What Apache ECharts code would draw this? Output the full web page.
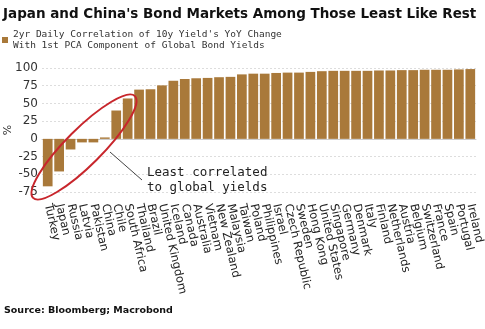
<!DOCTYPE html>
<html><head><meta charset="utf-8">
<script src="https://cdn.jsdelivr.net/npm/echarts@6/dist/echarts.min.js"></script>
<style>html,body{margin:0;padding:0;background:#fff}#c{width:485px;height:329px}</style>
</head><body><div id="c"></div>
<script>
const countries = ['Turkey','Japan','Russia','Latvia','Pakistan','China','Chile','South Africa','Thailand','Brazil','United Kingdom','Iceland','Canada','Australia','Vietnam','New Zealand','Malaysia','Taiwan','Poland','Philippines','Israel','Czech Republic','Sweden','Hong Kong','United States','Singapore','Germany','Denmark','Italy','Finland','Netherlands','Austria','Belgium','Switzerland','France','Spain','Portugal','Ireland'];
const correlation = [-67,-46,-15,-5,-5,2,40,57,69.5,70,75.5,82,84.5,85.5,86,87,87.5,91,92,92,93,93.5,93.5,94.5,95.5,96,96,96,96,96.5,96.5,97,97,97.5,97.5,97.5,98,98.5];
const yMin = -75, yMax = 100, yStep = 25;
const seriesName = "2yr Daily Correlation of 10y Yield's YoY Change\nWith 1st PCA Component of Global Bond Yields";

const chart = echarts.init(document.getElementById('c'));
chart.setOption({
  animation: false,
  backgroundColor: '#fff',
  title: {
    text: "Japan and China's Bond Markets Among Those Least Like Rest",
    left: 3, top: 7, padding: 0,
    textStyle: { fontFamily: 'DejaVu Sans', fontWeight: 'bold', fontSize: 13.5, color: '#111' }
  },
  legend: {
    left: 2, top: 29, padding: 0,
    icon: 'rect', itemWidth: 6, itemHeight: 6, itemGap: 4,
    textStyle: { fontFamily: 'DejaVu Sans Mono', fontSize: 9.5, color: '#333', lineHeight: 11 },
    data: [{ name: seriesName }]
  },
  grid: { left: 42, right: 9, top: 68, bottom: 137, containLabel: false, outerBoundsMode: 'none' },
  xAxis: {
    type: 'category', data: countries, offset: 8,
    axisLine: { lineStyle: { color: '#ccc' } },
    axisTick: { length: 4, lineStyle: { color: '#ccc' } },
    axisLabel: { interval: 0, rotate: -77, margin: 4, fontFamily: 'DejaVu Sans', fontSize: 11.5, color: '#222' }
  },
  yAxis: {
    type: 'value', min: yMin, max: yMax, interval: yStep,
    name: '%', nameLocation: 'middle', nameRotate: 90, nameGap: 28, nameMoveOverlap: false,
    nameTextStyle: { fontFamily: 'DejaVu Sans', fontSize: 11, color: '#333' },
    axisLine: { show: false }, axisTick: { show: false },
    axisLabel: { margin: 4, fontFamily: 'DejaVu Sans', fontSize: 12, color: '#333', formatter: v => String(v) },
    splitLine: { lineStyle: { color: '#ddd', type: [2, 2] } }
  },
  series: [{
    name: seriesName, type: 'bar', data: correlation,
    barCategoryGap: '15%', itemStyle: { color: '#a9793a' }
  }],
  graphic: [
    { type: 'ellipse', x: 84, y: 147, rotation: Math.PI / 4, z: 100,
      shape: { cx: 0, cy: 0, rx: 72, ry: 18 },
      style: { fill: 'none', stroke: '#c8262c', lineWidth: 2 } },
    { type: 'line', z: 100, shape: { x1: 110, y1: 152, x2: 142, y2: 180 },
      style: { stroke: '#444', lineWidth: 1 } },
    { type: 'text', left: 147, top: 165, z: 100,
      style: { text: 'Least correlated\nto global yields', font: '12.5px "DejaVu Sans Mono"', fill: '#222', lineHeight: 15 } },
    { type: 'text', left: 4, top: 306, z: 100,
      style: { text: 'Source: Bloomberg; Macrobond', font: 'bold 9.5px "DejaVu Sans"', fill: '#111' } }
  ]
});
</script></body></html>
